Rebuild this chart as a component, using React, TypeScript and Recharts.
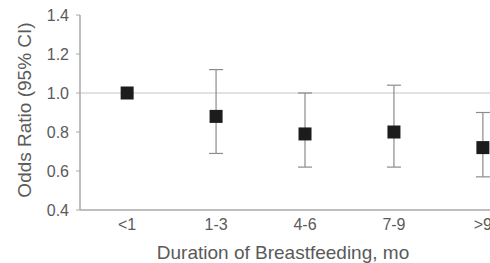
import { ScatterChart, Scatter, XAxis, YAxis, ErrorBar, ReferenceLine, Label } from 'recharts'

// duration of breastfeeding groups
const categories = ['<1', '1-3', '4-6', '7-9', '>9']
const oddsRatio = [1.0, 0.88, 0.79, 0.8, 0.72]
const ciLow: (number | null)[] = [null, 0.69, 0.62, 0.62, 0.57]
const ciHigh: (number | null)[] = [null, 1.12, 1.0, 1.04, 0.9]
const yTicks = [0.4, 0.6, 0.8, 1.0, 1.2, 1.4]

const data = categories.map((name, i) => ({
  x: i,
  name,
  or: oddsRatio[i],
  err: ciLow[i] == null ? null : [oddsRatio[i] - (ciLow[i] as number), (ciHigh[i] as number) - oddsRatio[i]],
}))

const FONT = '"Liberation Sans", Arial, Helvetica, sans-serif'
const TEXT = '#5a5a5a'

// filled square marker
// eslint-disable-next-line @typescript-eslint/no-explicit-any
function SquareDot(props: any) {
  const { cx, cy } = props as { cx: number; cy: number }
  return <rect x={cx - 6.5} y={cy - 6.5} width={13} height={13} fill="#1c1c1c" />
}

export default function App() {
  return (
    <div style={{ position: 'absolute', left: 0, top: 0, width: 490, height: 263, overflow: 'hidden', background: '#fff' }}>
      <ScatterChart
        width={490}
        height={263}
        margin={{ top: 15, right: 0, bottom: 0, left: 0 }}
        style={{ fontFamily: FONT }}
      >
        <ReferenceLine y={1} stroke="#c4c4c4" strokeWidth={1} />
        <XAxis
          type="number"
          dataKey="x"
          domain={[-0.53, 4.08]}
          allowDataOverflow
          ticks={[0, 1, 2, 3, 4]}
          interval={0}
          tickFormatter={(v: number) => categories[v] ?? ''}
          tickLine={false}
          tickSize={0}
          tickMargin={9}
          axisLine={{ stroke: '#a8a8a8', strokeWidth: 1.5 }}
          tick={{ fill: TEXT, fontSize: 16 }}
          height={53}
        >
          <Label
            content={() => (
              <text x={283} y={252} textAnchor="middle" dominantBaseline="central" fill={TEXT} fontSize={19} fontFamily={FONT}>
                Duration of Breastfeeding, mo
              </text>
            )}
          />
        </XAxis>
        <YAxis
          type="number"
          dataKey="or"
          domain={[0.4, 1.4]}
          ticks={yTicks}
          tickFormatter={(v: number) => v.toFixed(1)}
          tickSize={4}
          tickMargin={7}
          tickLine={{ stroke: '#a8a8a8' }}
          axisLine={{ stroke: '#a8a8a8', strokeWidth: 1.5 }}
          tick={{ fill: TEXT, fontSize: 16 }}
          width={80}
        >
          <Label
            content={() => (
              <text
                x={24}
                y={110}
                transform="rotate(-90, 24, 110)"
                textAnchor="middle"
                dominantBaseline="central"
                fill={TEXT}
                fontSize={19}
                fontFamily={FONT}
              >
                Odds Ratio (95% CI)
              </text>
            )}
          />
        </YAxis>
        <Scatter data={data} dataKey="or" shape={SquareDot} isAnimationActive={false}>
          <ErrorBar dataKey="err" direction="y" width={7} stroke="#8c8c8c" strokeWidth={1.2} />
        </Scatter>
      </ScatterChart>
    </div>
  )
}
